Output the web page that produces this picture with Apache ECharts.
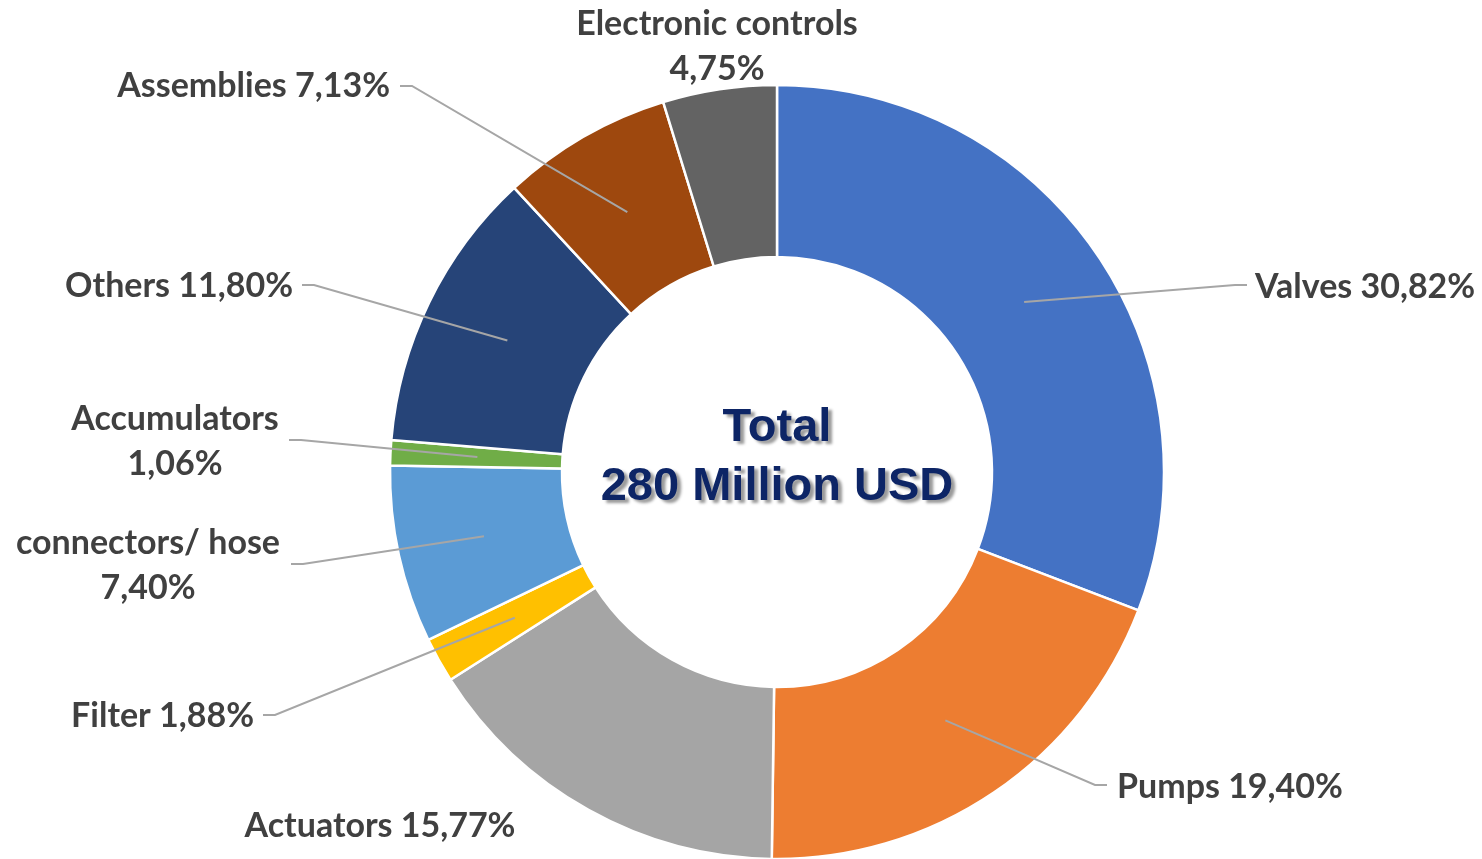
<!DOCTYPE html>
<html>
<head>
<meta charset="utf-8">
<script src="https://cdn.jsdelivr.net/npm/echarts@6/dist/echarts.min.js"></script>
<style>
  html, body { margin: 0; padding: 0; background: #ffffff; }
  #chart { width: 1482px; height: 859px; }
</style>
</head>
<body>
<div id="chart"></div>
<script>
// ---- Data ----
const categories = ['Valves', 'Pumps', 'Actuators', 'Filter', 'connectors/ hose', 'Accumulators', 'Others', 'Assemblies', 'Electronic controls'];
const shares = [30.82, 19.40, 15.77, 1.88, 7.40, 1.06, 11.80, 7.13, 4.75];
const twoLineLabel = [false, false, false, false, true, true, false, false, true];
const hasLeader = [true, true, false, true, true, true, true, true, false];
const colors = ['#4472C4', '#ED7D31', '#A5A5A5', '#FFC000', '#5B9BD5', '#70AD47', '#264478', '#9E480E', '#636363'];
const centerTitle = ['Total', '280 Million USD'];

// ---- Layout (not data) ----
const CX = 777, CY = 472;
const R_IN = 215, R_OUT = 387, R_LEADER = 300;
// label placement: align, text x, text y, leader end x, leader y
const labelPlace = [
  ['left',   1255, 287, 1247, 285],
  ['left',   1117, 787, 1107, 785],
  ['center',  380, 826, null, null],
  ['right',   254, 716,  263, 715],
  ['center',  148, 566,  291, 564],
  ['center',  175, 442,  289, 440],
  ['right',   293, 286,  302, 285],
  ['right',   390,  86,  400,  86],
  ['center',  717,  47, null, null]
];

function fmt(v) { return v.toFixed(2).replace('.', ',') + '%'; }

const pieData = categories.map((c, i) => ({
  name: c, value: shares[i], itemStyle: { color: colors[i] }
}));
const labelData = categories.map((c, i) => ({
  name: c, value: shares[i],
  labelLine: { show: hasLeader[i] }
}));

const chart = echarts.init(document.getElementById('chart'), null, { renderer: 'canvas' });
chart.setOption({
  animation: false,
  backgroundColor: '#ffffff',
  series: [
    {
      type: 'pie',
      center: [CX, CY],
      radius: [R_IN, R_OUT],
      startAngle: 90,
      clockwise: true,
      avoidLabelOverlap: false,
      silent: true,
      label: { show: false },
      labelLine: { show: false },
      itemStyle: { borderColor: '#ffffff', borderWidth: 2.5 },
      data: pieData
    },
    {
      type: 'pie',
      center: [CX, CY],
      radius: [0, R_LEADER],
      startAngle: 90,
      clockwise: true,
      avoidLabelOverlap: false,
      silent: true,
      z: 3,
      itemStyle: { color: 'rgba(0,0,0,0)', borderWidth: 0 },
      label: {
        show: true,
        position: 'outside',
        formatter: p => p.name + (twoLineLabel[p.dataIndex] ? '\n' : ' ') + fmt(p.value),
        fontFamily: 'Lato',
        fontWeight: 'bold',
        fontSize: 34,
        lineHeight: 45,
        color: '#404040'
      },
      labelLine: {
        show: true,
        length: 20,
        length2: 10,
        lineStyle: { color: '#A6A6A6', width: 2 }
      },
      labelLayout: function (params) {
        const i = params.dataIndex;
        const pl = labelPlace[i];
        const out = { x: pl[1], y: pl[2], align: pl[0], verticalAlign: 'middle' };
        if (hasLeader[i] && params.labelLinePoints) {
          const p0 = params.labelLinePoints[0];
          const sign = pl[3] > CX ? -1 : 1;
          out.labelLinePoints = [
            [p0[0], p0[1]],
            [pl[3] + sign * 12, pl[4]],
            [pl[3], pl[4]]
          ];
        }
        return out;
      },
      data: labelData
    }
  ],
  graphic: [
    {
      type: 'text',
      x: CX,
      y: 458,
      z: 10,
      style: {
        text: centerTitle.join('\n'),
        font: 'bold 47px "Liberation Sans", Arial, sans-serif',
        fill: '#0D2566',
        align: 'center',
        verticalAlign: 'middle',
        lineHeight: 59,
        textShadowColor: 'rgba(0,0,0,0.4)',
        textShadowBlur: 3,
        textShadowOffsetX: 4,
        textShadowOffsetY: 3
      }
    }
  ]
});
</script>
</body>
</html>
